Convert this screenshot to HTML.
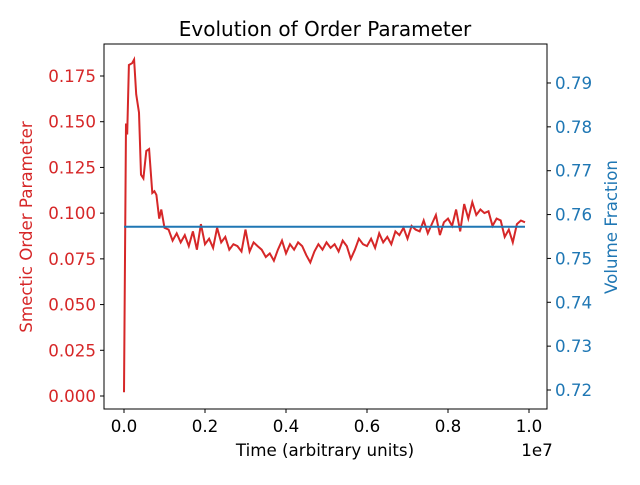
<!DOCTYPE html>
<html><head><meta charset="utf-8"><style>
body{margin:0;background:#fff;width:640px;height:480px;overflow:hidden}
svg text{font-family:"DejaVu Sans","Liberation Sans",sans-serif}
</style></head><body>
<svg id="chart" width="640" height="480" xmlns="http://www.w3.org/2000/svg"></svg>
<script>
const xTicks=[0,0.2,0.4,0.6,0.8,1.0];
const xTickLabels=["0.0","0.2","0.4","0.6","0.8","1.0"];
const leftTicks=[0,0.025,0.05,0.075,0.1,0.125,0.15,0.175];
const leftTickLabels=["0.000","0.025","0.050","0.075","0.100","0.125","0.150","0.175"];
const rightTicks=[0.72,0.73,0.74,0.75,0.76,0.77,0.78,0.79];
const rightTickLabels=["0.72","0.73","0.74","0.75","0.76","0.77","0.78","0.79"];
const earlyTimes=[0,0.05,0.08,0.12,0.2,0.25,0.3,0.37,0.42,0.48,0.55,0.62,0.7,0.75,0.8,0.87,0.92];
const earlyValues=[0.002,0.149,0.143,0.181,0.182,0.184,0.165,0.155,0.121,0.119,0.134,0.135,0.111,0.112,0.110,0.097,0.102];
const lateValues=[0.092,0.091,0.085,0.089,0.084,0.088,0.082,0.090,0.080,0.094,0.083,0.086,0.081,0.092,0.084,0.087,0.080,0.083,0.082,0.079,
0.091,0.079,0.084,0.082,0.080,0.076,0.078,0.074,0.080,0.085,0.078,0.083,0.080,0.084,0.082,0.077,0.073,0.079,0.083,0.080,
0.084,0.081,0.083,0.079,0.085,0.082,0.075,0.080,0.086,0.083,0.082,0.086,0.081,0.089,0.084,0.087,0.083,0.090,0.088,0.092,
0.086,0.093,0.091,0.090,0.096,0.089,0.094,0.099,0.088,0.095,0.097,0.093,0.102,0.090,0.105,0.097,0.106,0.099,0.102,0.100,
0.101,0.093,0.097,0.096,0.087,0.091,0.084,0.094,0.096,0.095];
const volumeTimes=[0,0.99];
const volumeValues=[0.7572,0.7572];

const svg=document.getElementById('chart');
const NS='http://www.w3.org/2000/svg';
const X0=104,X1=547,Y0=44,Y1=409;
const xs=t=>124+t*405;
const yl=v=>396-v*1828.6;
const yr=v=>390-(v-0.72)*4386;
function mk(tag,attrs,text){const e=document.createElementNS(NS,tag);for(const k in attrs)e.setAttribute(k,attrs[k]);if(text!==undefined)e.textContent=text;svg.appendChild(e);return e;}

let e=mk('text',{x:325,y:36,'font-size':20,'text-anchor':'middle',fill:'#000'},'Evolution of Order Parameter');



const times=earlyTimes.concat(lateValues.map((v,i)=>1.0+i*0.1)).map(t=>t/10);
const vals=earlyValues.concat(lateValues);
e=mk('polyline',{points:times.map((t,i)=>xs(t).toFixed(1)+','+yl(vals[i]).toFixed(1)).join(' '),fill:'none',stroke:'#d62728','stroke-width':2});


e=mk('polyline',{points:volumeTimes.map((t,i)=>xs(t).toFixed(1)+','+yr(volumeValues[i]).toFixed(1)).join(' '),fill:'none',stroke:'#1f77b4','stroke-width':2});



e=mk('rect',{x:X0,y:Y0,width:X1-X0,height:Y1-Y0,fill:'none',stroke:'#000','stroke-width':1});



xTicks.forEach((t,i)=>{
  mk('line',{x1:xs(t),x2:xs(t),y1:Y1,y2:Y1+4,stroke:'#000'});
  const l=mk('text',{x:xs(t),y:Y1+23,'font-size':16.7,'text-anchor':'middle',fill:'#000'},xTickLabels[i]);
  
  
});
leftTicks.forEach((v,i)=>{
  mk('line',{x1:X0-4,x2:X0,y1:yl(v),y2:yl(v),stroke:'#000'});
  const l=mk('text',{x:X0-8,y:yl(v)+6,'font-size':16.7,'text-anchor':'end',fill:'#d62728'},leftTickLabels[i]);
  
  
});
rightTicks.forEach((v,i)=>{
  mk('line',{x1:X1,x2:X1+4,y1:yr(v),y2:yr(v),stroke:'#000'});
  const l=mk('text',{x:X1+8,y:yr(v)+6,'font-size':16.7,'text-anchor':'start',fill:'#1f77b4'},rightTickLabels[i]);
  
  
});
e=mk('text',{x:325,y:456,'font-size':16.7,'text-anchor':'middle',fill:'#000'},'Time (arbitrary units)');


e=mk('text',{x:537,y:456,'font-size':16.7,'text-anchor':'middle',fill:'#000'},'1e7');


e=mk('text',{x:32,y:227,'font-size':16.7,'text-anchor':'middle',fill:'#d62728',transform:'rotate(-90 32 227)'},'Smectic Order Parameter');


e=mk('text',{x:617,y:227,'font-size':16.7,'text-anchor':'middle',fill:'#1f77b4',transform:'rotate(-90 617 227)'},'Volume Fraction');


</script>
</body></html>
